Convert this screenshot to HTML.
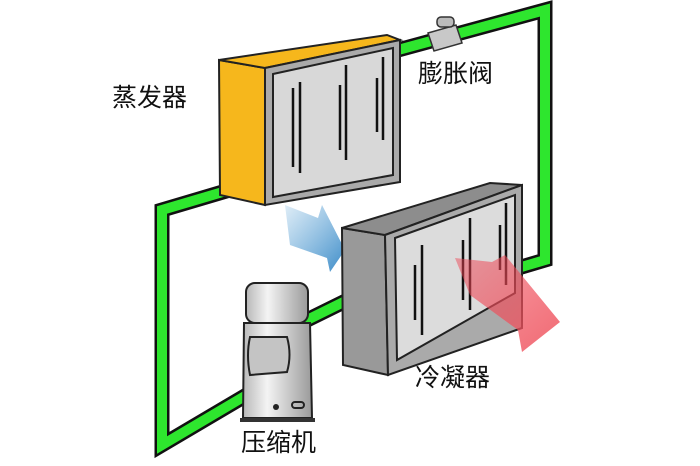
<!DOCTYPE html>
<html><head><meta charset="utf-8"><style>
html,body{margin:0;padding:0;background:#fff;}
svg{display:block}
text{font-family:"Liberation Sans","Noto Sans CJK SC",sans-serif;fill:#111;}
</style></head><body>
<svg width="700" height="466" viewBox="0 0 700 466" xmlns="http://www.w3.org/2000/svg">
<defs>
<linearGradient id="comp" x1="0" x2="1"><stop offset="0" stop-color="#b8b8b8"/><stop offset="0.35" stop-color="#f4f4f4"/><stop offset="1" stop-color="#9a9a9a"/></linearGradient>
<linearGradient id="blue" x1="0" y1="0" x2="1" y2="1"><stop offset="0" stop-color="#5aa2d6" stop-opacity="0.2"/><stop offset="1" stop-color="#3d8cc8"/></linearGradient>
<linearGradient id="red" x1="0" y1="0" x2="1" y2="1"><stop offset="0" stop-color="#ee4050" stop-opacity="0.5"/><stop offset="1" stop-color="#f05a64"/></linearGradient>
</defs>
<g fill="none" stroke-linejoin="miter" stroke-linecap="round">
<path d="M243,186 L162,210 L162,445 L250,393" stroke="#111" stroke-width="15"/>
<path d="M243,186 L162,210 L162,445 L250,393" stroke="#2ee62e" stroke-width="10"/>
<path d="M398,50 L545,10 L545,260 L518,268" stroke="#111" stroke-width="15"/>
<path d="M398,50 L545,10 L545,260 L518,268" stroke="#2ee62e" stroke-width="10"/>
<path d="M303,322 L372,288" stroke="#111" stroke-width="15"/>
<path d="M303,322 L372,288" stroke="#2ee62e" stroke-width="10"/>
</g>
<path d="M428,33 L456,25 L462,43 L434,51 Z" fill="#c8c8c8" stroke="#333" stroke-width="1.5"/>
<rect x="437" y="17" width="17" height="10" rx="4" fill="#bbb" stroke="#333" stroke-width="1.5"/>
<polygon points="219,60 265,68 265,205 220,195" fill="#f6b71c" stroke="#222" stroke-width="2"/>
<polygon points="219,60 387,35 400,40 265,68" fill="#f6b71c" stroke="#222" stroke-width="2"/>
<polygon points="265,68 400,40 400,182 265,205" fill="#aaa" stroke="#222" stroke-width="2"/>
<polygon points="273,74 393,48 393,175 273,197" fill="#d8d8d8" stroke="#222" stroke-width="2"/>
<g stroke="#111" stroke-width="2.5">
<line x1="293" y1="88" x2="293" y2="167"/><line x1="300" y1="82" x2="300" y2="173"/>
<line x1="340" y1="85" x2="340" y2="150"/><line x1="346" y1="65" x2="346" y2="160"/>
<line x1="377" y1="78" x2="377" y2="132"/><line x1="383" y1="57" x2="383" y2="140"/>
</g>
<polygon points="285,205 318,218 322,205 345,250 330,272 327,258 290,245" fill="url(#blue)"/>
<polygon points="342,228 385,235 388,375 343,365" fill="#999" stroke="#222" stroke-width="2"/>
<polygon points="342,228 490,183 522,185 385,235" fill="#8d8d8d" stroke="#222" stroke-width="2"/>
<polygon points="385,235 522,185 522,328 388,375" fill="#aaa" stroke="#222" stroke-width="2"/>
<polygon points="395,238 515,195 515,293 397,360" fill="#dcdcdc" stroke="#222" stroke-width="2"/>
<g stroke="#111" stroke-width="2.5">
<line x1="415" y1="265" x2="415" y2="320"/><line x1="422" y1="245" x2="422" y2="335"/>
<line x1="463" y1="240" x2="463" y2="300"/><line x1="470" y1="218" x2="470" y2="310"/>
<line x1="500" y1="225" x2="500" y2="270"/><line x1="506" y1="203" x2="506" y2="285"/>
</g>
<polygon points="455,258 492,262 505,255 560,322 522,352 518,330 470,295" fill="url(#red)" opacity="0.9"/>
<rect x="246" y="283" width="62" height="40" rx="9" fill="url(#comp)" stroke="#222" stroke-width="2"/>
<path d="M244,323 L310,323 L312,418 L243,418 Z" fill="url(#comp)" stroke="#222" stroke-width="2"/>
<path d="M250,337 L287,337 Q292,355 287,372 L250,375 Q246,355 250,337 Z" fill="#c4c4c4" stroke="#222" stroke-width="2"/>
<circle cx="276" cy="407" r="3" fill="#222"/>
<rect x="292" y="402" width="12" height="6" rx="3" fill="none" stroke="#222" stroke-width="2"/>
<rect x="240" y="418" width="75" height="4" fill="#333"/>
<text x="112" y="106" font-size="25">蒸发器</text>
<text x="418" y="82" font-size="25">膨胀阀</text>
<text x="415" y="386" font-size="25">冷凝器</text>
<text x="241" y="451" font-size="25">压缩机</text>
</svg>
</body></html>
